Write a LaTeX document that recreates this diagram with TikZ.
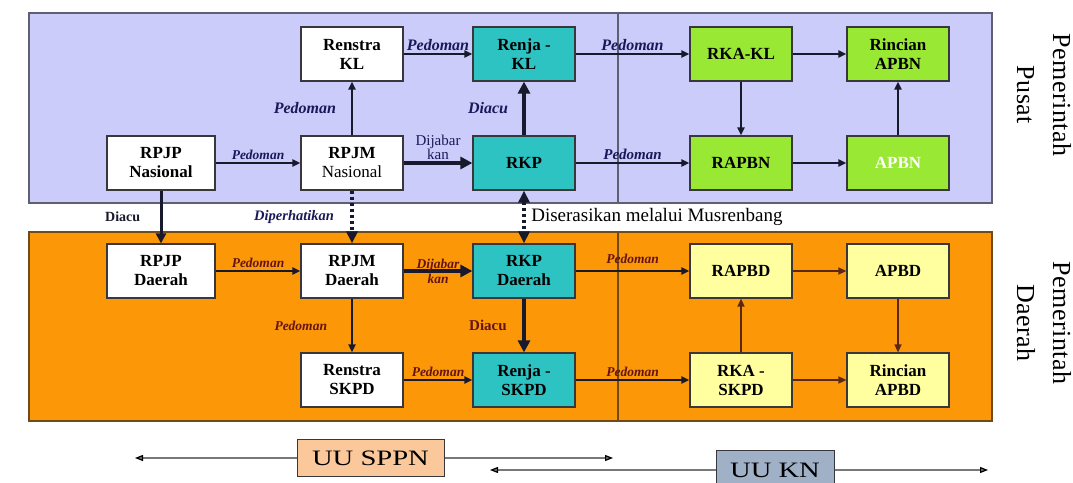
\documentclass[tikz,border=0pt]{standalone}
\usepackage{fontspec}
\setmainfont{Liberation Serif}
\newfontfamily\lawfont[FakeStretch=1.3]{Liberation Serif}
\newfontfamily\sidefont[LetterSpace=2]{Liberation Serif}
\usetikzlibrary{arrows.meta, positioning}
\definecolor{pusatbg}{RGB}{204,204,250}
\definecolor{pusatframe}{RGB}{95,95,115}
\definecolor{daerahbg}{RGB}{252,152,8}
\definecolor{daerahframe}{RGB}{110,75,25}
\definecolor{renjafill}{RGB}{45,195,195}
\definecolor{apbnfill}{RGB}{153,232,51}
\definecolor{apbdfill}{RGB}{255,255,160}
\definecolor{sppnfill}{RGB}{250,200,155}
\definecolor{knfill}{RGB}{160,176,198}
\definecolor{edgeline}{RGB}{55,55,60}
\definecolor{navy}{RGB}{25,25,90}
\definecolor{maroon}{RGB}{100,20,20}
\definecolor{flowline}{RGB}{25,25,45}
\definecolor{budgetline}{RGB}{90,40,20}
\definecolor{lawline}{RGB}{120,120,120}

\begin{document}
\begin{tikzpicture}[x=1pt,y=-1pt,node distance=109pt,on grid,>={Triangle[length=8pt,width=7pt]}]
    \tikzstyle{box}=[draw=edgeline,line width=1.2pt,minimum width=102pt,minimum height=54pt,inner sep=1pt,align=center,font=\bfseries\fontsize{17}{19}\selectfont]
    \tikzstyle{plan}=[box,fill=white]
    \tikzstyle{renja}=[box,fill=renjafill]
    \tikzstyle{apbn}=[box,fill=apbnfill]
    \tikzstyle{apbd}=[box,fill=apbdfill]
    \tikzstyle{law}=[draw=edgeline,line width=1pt,inner sep=0pt,font=\lawfont\fontsize{22}{24}\selectfont]
    \tikzstyle{side}=[rotate=-90,align=center,font=\sidefont\fontsize{26}{36}\selectfont]
    \tikzstyle{note}=[font=\bfseries\itshape\fontsize{16}{16}\selectfont,text=navy,inner sep=2pt]
    \tikzstyle{notes}=[note,font=\bfseries\itshape\fontsize{13.5}{14}\selectfont]
    \tikzstyle{noted}=[notes,text=maroon]

    \useasboundingbox (0,0) rectangle (1073,482);
    \draw[fill=pusatbg,draw=pusatframe,line width=1.3pt] (29,13) rectangle (992,203);
    \draw[fill=daerahbg,draw=daerahframe,line width=1.3pt] (29,232) rectangle (992,421);
    \draw[pusatframe,line width=1.5pt] (618,13) -- (618,203);
    \draw[daerahframe,line width=1.8pt] (618,232) -- (618,421);

    \node[plan,minimum width=108pt] (RPJPN) at (161,163) {RPJP\\Nasional};
    \node[plan,right=191pt of RPJPN] (RPJMN) {RPJM\\{\mdseries Nasional}};
    \node[renja,right=172pt of RPJMN] (RKP) {RKP};
    \node[apbn,right=217pt of RKP] (RAPBN) {RAPBN};
    \node[apbn,right=157pt of RAPBN,text=white] (APBN) {APBN};
    \node[plan,above=of RPJMN] (RenstraKL) {Renstra\\KL};
    \node[renja,above=of RKP] (RenjaKL) {Renja -\\KL};
    \node[apbn,above=of RAPBN] (RKAKL) {RKA-KL};
    \node[apbn,above=of APBN] (RincianAPBN) {Rincian\\APBN};
    \node[plan,minimum width=108pt,below=108pt of RPJPN] (RPJPD) {RPJP\\Daerah};
    \node[plan,below=108pt of RPJMN] (RPJMD) {RPJM\\Daerah};
    \node[renja,below=108pt of RKP] (RKPD) {RKP\\Daerah};
    \node[apbd,below=108pt of RAPBN] (RAPBD) {RAPBD};
    \node[apbd,below=108pt of APBN] (APBD) {APBD};
    \node[plan,below=of RPJMD] (RenstraSKPD) {Renstra\\SKPD};
    \node[renja,below=of RKPD] (RenjaSKPD) {Renja -\\SKPD};
    \node[apbd,below=of RAPBD] (RKASKPD) {RKA -\\SKPD};
    \node[apbd,below=of APBD] (RincianAPBD) {Rincian\\APBD};

    \node[side] (pusatlbl) at (1044,95) {Pemerintah\\Pusat};
    \node[side] (daerahlbl) at (1044,323) {Pemerintah\\Daerah};

    \node[law,fill=sppnfill,minimum width=147pt,minimum height=37pt] (SPPN) at (370.5,458) {UU SPPN};
    \node[law,fill=knfill,minimum width=118pt,minimum height=40pt] (KN) at (775,470) {UU KN};
    \coordinate (sppnW) at (135,458);
    \coordinate (sppnE) at (613,458);
    \coordinate (knW) at (490,470);
    \coordinate (knE) at (988,470);

    \path[->,draw,line width=2pt,flowline]
    (RPJPN) edge node[notes,above] {Pedoman} (RPJMN)
    (RenstraKL) edge node[note,above] {Pedoman} (RenjaKL)
    (RenjaKL) edge node[note,above] {Pedoman} (RKAKL)
    (RPJMN) edge node[note,left=13pt] {Pedoman} (RenstraKL)
    (RKP) edge node[note,above,font=\bfseries\itshape\fontsize{15}{15}\selectfont] {Pedoman} (RAPBN)
    (RKAKL) edge (RincianAPBN)
    (RKAKL) edge (RAPBN)
    (RAPBN) edge (APBN)
    (APBN) edge (RincianAPBN)
    (RPJPD) edge node[noted,above] {Pedoman} (RPJMD)
    (RPJMD) edge node[noted,left=22pt] {Pedoman} (RenstraSKPD)
    (RenstraSKPD) edge node[noted,above] {Pedoman} (RenjaSKPD)
    (RKPD) edge node[noted,above=4pt] {Pedoman} (RAPBD)
    (RenjaSKPD) edge node[noted,above] {Pedoman} (RKASKPD);

    \path[->,draw,line width=1.5pt,budgetline]
    (RAPBD) edge (APBD)
    (APBD) edge (RincianAPBD)
    (RKASKPD) edge (RAPBD)
    (RKASKPD) edge (RincianAPBD);

    \path[->,>={Triangle[length=12pt,width=12pt]},draw,line width=4pt,flowline]
    (RPJMN) edge node[above,align=center,inner sep=1pt,text=navy,font=\fontsize{15}{14}\selectfont] {Dijabar\\kan} (RKP)
    (RKP) edge node[note,left=12pt] {Diacu} (RenjaKL)
    (RKPD) edge node[left=12pt,text=maroon,font=\bfseries\fontsize{15}{15}\selectfont] {Diacu} (RenjaSKPD)
    (RPJMD) edge node[align=center,text=maroon,font=\bfseries\itshape\fontsize{13.5}{15}\selectfont] {Dijabar\\kan} (RKPD);

    \path[->,>={Triangle[length=10pt,width=10pt]},draw,line width=3pt,flowline]
    (RPJPN) edge node[left=16pt,font=\bfseries\fontsize{14}{14}\selectfont] {Diacu} (RPJPD);

    \path[->,>={Triangle[length=12pt,width=11pt]},draw,line width=4pt,dash pattern=on 3.5pt off 2.5pt,flowline]
    (RPJMN) edge node[note,left=14pt,font=\bfseries\itshape\fontsize{14.5}{15}\selectfont] {Diperhatikan} (RPJMD);

    \path[<->,>={Triangle[length=12pt,width=11pt]},draw,line width=4pt,dash pattern=on 3.5pt off 2.5pt,flowline]
    (RKP) edge node[right=2pt,text=black,font=\fontsize{19}{19}\selectfont] {Diserasikan melalui Musrenbang} (RKPD);

    \path[->,>={Triangle[length=8pt,width=6pt,color=black]},draw,line width=1.2pt,lawline]
    (SPPN) edge (sppnW)
    (SPPN) edge (sppnE)
    (KN) edge (knW)
    (KN) edge (knE);
\end{tikzpicture}
\end{document}
